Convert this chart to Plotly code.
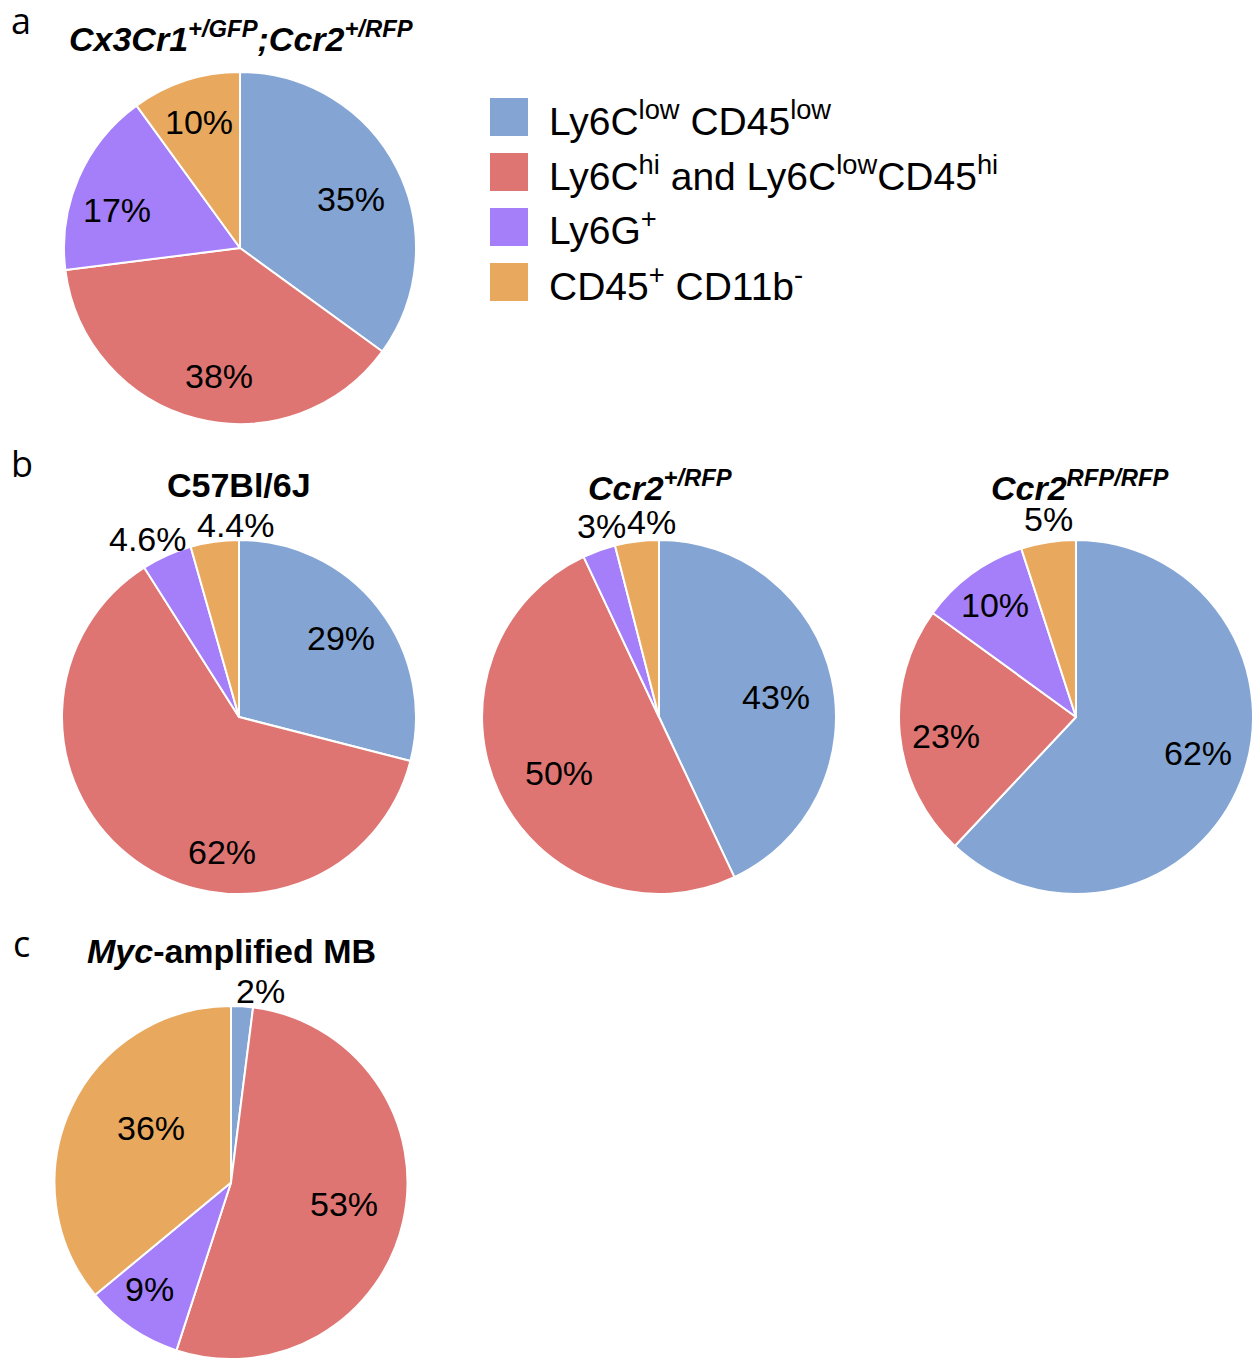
import math
import plotly.graph_objects as go

# Cell populations (legend order = slice order, clockwise from 12 o'clock)
CATEGORIES = [
    "Ly6C<sup>low</sup> CD45<sup>low</sup>",
    "Ly6C<sup>hi</sup> and Ly6C<sup>low</sup>CD45<sup>hi</sup>",
    "Ly6G<sup>+</sup>",
    "CD45<sup>+</sup> CD11b<sup>-</sup>",
]
COLORS = ["#84A5D3", "#DE7572", "#A47FF9", "#E8A85E"]

# Percentages per genotype / tumour model
PCT_CX3CR1_CCR2 = [35, 38, 17, 10]
PCT_C57BL6J = [29, 62, 4.6, 4.4]
PCT_CCR2_HET = [43, 50, 3, 4]
PCT_CCR2_KO = [62, 23, 10, 5]
PCT_MYC_MB = [2, 53, 9, 36]

TITLES = [
    "<b><i>Cx3Cr1</i><sup><i>+/GFP</i></sup><i>;Ccr2</i><sup><i>+/RFP</i></sup></b>",
    "<b>C57Bl/6J</b>",
    "<b><i>Ccr2</i><sup><i>+/RFP</i></sup></b>",
    "<b><i>Ccr2</i><sup><i>RFP/RFP</i></sup></b>",
    "<b><i>Myc</i>-amplified MB</b>",
]

W, H = 1253, 1359
FONT = "Liberation Sans"


def px(x):
    return x / W


def py(y):
    return 1 - y / H


# Layout of each pie: centre (px), radius (px), title position (px),
# label radius as a fraction of the pie radius, label angular nudge (deg)
PANELS = [
    dict(values=PCT_CX3CR1_CCR2, title=TITLES[0], cx=240, cy=248, r=176,
         tx=241, ty=37,
         lr=[0.69, 0.74, 0.73, 0.75], lshift=[3, -5, -6, 0]),
    dict(values=PCT_C57BL6J, title=TITLES[1], cx=239, cy=717, r=177,
         tx=239, ty=485,
         lr=[0.73, 0.77, 1.13, 1.085], lshift=[0, -29, -3, 7]),
    dict(values=PCT_CCR2_HET, title=TITLES[2], cx=659, cy=717, r=177,
         tx=660, ty=485,
         lr=[0.67, 0.65, 1.13, 1.10], lshift=[3, -4, 3, 5]),
    dict(values=PCT_CCR2_KO, title=TITLES[3], cx=1076, cy=717, r=177,
         tx=1080, ty=485,
         lr=[0.72, 0.74, 0.78, 1.13], lshift=[-5, -3, 0, 1]),
    dict(values=PCT_MYC_MB, title=TITLES[4], cx=231, cy=1182.5, r=176.5,
         tx=231, ty=951,
         lr=[1.10, 0.65, 0.76, 0.55], lshift=[5, -2, 3, 9]),
]

PANEL_LETTERS = [("a", 21, 20), ("b", 22, 463), ("c", 21, 943)]

fig = go.Figure()
annotations = []
shapes = []

for i, p in enumerate(PANELS):
    cx, cy, r = p["cx"], p["cy"], p["r"]
    fig.add_trace(go.Pie(
        values=p["values"],
        labels=CATEGORIES,
        marker=dict(colors=COLORS, line=dict(color="white", width=2)),
        sort=False,
        direction="clockwise",
        rotation=0,
        textinfo="none",
        hoverinfo="label+percent",
        showlegend=False,
        domain=dict(x=[px(cx - r), px(cx + r)], y=[py(cy + r), py(cy - r)]),
    ))

    # percentage labels placed along each slice's bisector
    total = sum(p["values"])
    cum = 0.0
    for j, v in enumerate(p["values"]):
        mid = (cum + v / 2) / total * 360 + p["lshift"][j]
        cum += v
        rr = p["lr"][j] * r
        lx = cx + rr * math.sin(math.radians(mid))
        ly = cy - rr * math.cos(math.radians(mid))
        annotations.append(dict(
            x=px(lx), y=py(ly), xref="paper", yref="paper",
            text=f"{v:g}%", showarrow=False,
            xanchor="center", yanchor="middle",
            font=dict(family=FONT, size=34, color="black"),
        ))

    annotations.append(dict(
        x=px(p["tx"]), y=py(p["ty"]), xref="paper", yref="paper",
        text=p["title"], showarrow=False,
        xanchor="center", yanchor="middle",
        font=dict(family=FONT, size=34, color="black"),
    ))

for letter, lx, ly in PANEL_LETTERS:
    annotations.append(dict(
        x=px(lx), y=py(ly), xref="paper", yref="paper",
        text=letter, showarrow=False,
        xanchor="center", yanchor="middle",
        font=dict(family="Open Sans", size=36, color="black"),
    ))

# legend: coloured squares with labels
LEG_X0, LEG_Y0, LEG_STEP, LEG_BOX = 490, 117, 55, 38
for k, (name, col) in enumerate(zip(CATEGORIES, COLORS)):
    yc = LEG_Y0 + k * LEG_STEP
    shapes.append(dict(
        type="rect", xref="paper", yref="paper",
        x0=px(LEG_X0), x1=px(LEG_X0 + LEG_BOX),
        y0=py(yc + LEG_BOX / 2), y1=py(yc - LEG_BOX / 2),
        fillcolor=col, line=dict(width=0),
    ))
    annotations.append(dict(
        x=px(547), y=py(yc + 1), xref="paper", yref="paper",
        text=name, showarrow=False,
        xanchor="left", yanchor="middle",
        font=dict(family=FONT, size=39, color="black"),
    ))

fig.update_layout(
    width=W, height=H,
    margin=dict(l=0, r=0, t=0, b=0),
    paper_bgcolor="white",
    plot_bgcolor="white",
    annotations=annotations,
    shapes=shapes,
    showlegend=False,
)

fig.write_html("out.html")
